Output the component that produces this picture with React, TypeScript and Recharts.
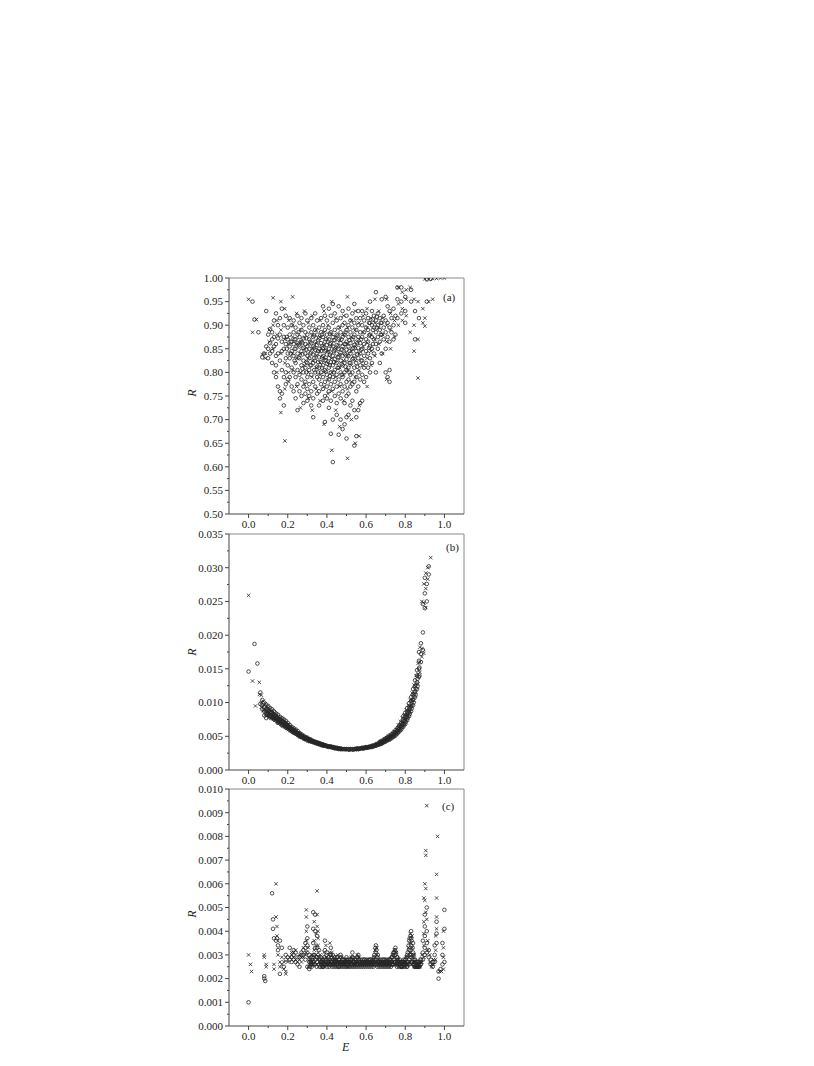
import React from 'react';
import { ScatterChart, Scatter, XAxis, YAxis, ReferenceLine } from 'recharts';

// each row: [E, list of R values read at that E]
type Group = [number, number[]];

const eTicks = [0, 0.1, 0.2, 0.3, 0.4, 0.5, 0.6, 0.7, 0.8, 0.9, 1.0];
const aTicks = [0.5, 0.525, 0.55, 0.575, 0.6, 0.625, 0.65, 0.675, 0.7, 0.725, 0.75, 0.775, 0.8, 0.825, 0.85, 0.875, 0.9, 0.925, 0.95, 0.975, 1.0];
const bTicks = [0, 0.0025, 0.005, 0.0075, 0.01, 0.0125, 0.015, 0.0175, 0.02, 0.0225, 0.025, 0.0275, 0.03, 0.0325, 0.035];
const cTicks = [0, 0.0005, 0.001, 0.0015, 0.002, 0.0025, 0.003, 0.0035, 0.004, 0.0045, 0.005, 0.0055, 0.006, 0.0065, 0.007, 0.0075, 0.008, 0.0085, 0.009, 0.0095, 0.01];

// panel (a)
const aCircles: Group[] = [
  [0.02, [0.95]], [0.03, [0.912]], [0.05, [0.885]], [0.07, [0.832]], [0.08, [0.84]], [0.09, [0.93, 0.855]],
  [0.10, [0.88, 0.85, 0.83]], [0.11, [0.892, 0.862, 0.84]], [0.12, [0.885, 0.87, 0.845, 0.82]],
  [0.13, [0.91, 0.875, 0.855, 0.80]], [0.14, [0.925, 0.86, 0.835, 0.815, 0.79]], [0.15, [0.90, 0.872, 0.84, 0.77]],
  [0.16, [0.915, 0.88, 0.825, 0.76, 0.745]], [0.17, [0.935, 0.865, 0.845, 0.805, 0.755]], [0.18, [0.90, 0.875, 0.85, 0.79, 0.73]],
  [0.19, [0.92, 0.86, 0.83, 0.80, 0.775]], [0.20, [0.895, 0.87, 0.84, 0.815, 0.785]], [0.21, [0.915, 0.88, 0.855, 0.83, 0.79]],
  [0.22, [0.90, 0.865, 0.845, 0.81, 0.77]], [0.23, [0.91, 0.885, 0.86, 0.835, 0.80, 0.76]], [0.24, [0.895, 0.87, 0.85, 0.82, 0.79, 0.745]],
  [0.25, [0.92, 0.88, 0.862, 0.84, 0.805, 0.775, 0.72]], [0.26, [0.905, 0.875, 0.855, 0.83, 0.795, 0.76]],
  [0.27, [0.915, 0.89, 0.865, 0.845, 0.815, 0.785, 0.75]], [0.28, [0.90, 0.872, 0.852, 0.825, 0.80, 0.77, 0.735]],
  [0.29, [0.925, 0.885, 0.86, 0.84, 0.81, 0.78, 0.755]], [0.30, [0.91, 0.88, 0.855, 0.835, 0.82, 0.79, 0.765, 0.74]],
  [0.31, [0.895, 0.87, 0.85, 0.83, 0.805, 0.775, 0.75]], [0.32, [0.915, 0.885, 0.862, 0.842, 0.815, 0.795, 0.76, 0.73]],
  [0.33, [0.90, 0.875, 0.855, 0.838, 0.82, 0.78, 0.745, 0.705]], [0.34, [0.925, 0.89, 0.865, 0.848, 0.825, 0.80, 0.77]],
  [0.35, [0.91, 0.88, 0.858, 0.84, 0.812, 0.79, 0.755]], [0.36, [0.895, 0.872, 0.85, 0.832, 0.81, 0.785, 0.76, 0.73]],
  [0.37, [0.915, 0.885, 0.862, 0.845, 0.822, 0.80, 0.775]], [0.38, [0.94, 0.90, 0.875, 0.852, 0.835, 0.815, 0.79, 0.765, 0.74]],
  [0.39, [0.92, 0.89, 0.865, 0.845, 0.825, 0.805, 0.78, 0.75, 0.695]], [0.40, [0.91, 0.88, 0.858, 0.838, 0.818, 0.795, 0.77, 0.745]],
  [0.41, [0.935, 0.895, 0.87, 0.85, 0.83, 0.81, 0.785, 0.76, 0.725]], [0.42, [0.92, 0.885, 0.862, 0.842, 0.822, 0.80, 0.775, 0.74, 0.67]],
  [0.43, [0.945, 0.905, 0.875, 0.855, 0.835, 0.815, 0.79, 0.765, 0.70, 0.61]], [0.44, [0.925, 0.89, 0.868, 0.848, 0.828, 0.805, 0.78, 0.75]],
  [0.45, [0.91, 0.88, 0.858, 0.84, 0.82, 0.795, 0.77, 0.735, 0.71]], [0.46, [0.94, 0.895, 0.87, 0.85, 0.832, 0.81, 0.785, 0.755, 0.668]],
  [0.47, [0.915, 0.885, 0.862, 0.842, 0.825, 0.80, 0.775, 0.745, 0.70]], [0.48, [0.93, 0.90, 0.875, 0.855, 0.835, 0.815, 0.79, 0.76, 0.68]],
  [0.49, [0.905, 0.88, 0.86, 0.84, 0.82, 0.80, 0.77, 0.735, 0.69]], [0.50, [0.92, 0.89, 0.865, 0.848, 0.828, 0.805, 0.78, 0.75, 0.705, 0.66]],
  [0.51, [0.935, 0.90, 0.875, 0.855, 0.835, 0.81, 0.785, 0.755, 0.71]], [0.52, [0.91, 0.885, 0.862, 0.84, 0.82, 0.795, 0.77, 0.73]],
  [0.53, [0.925, 0.895, 0.87, 0.85, 0.828, 0.80, 0.775, 0.74]], [0.54, [0.945, 0.905, 0.88, 0.858, 0.835, 0.81, 0.78, 0.72, 0.645]],
  [0.55, [0.915, 0.89, 0.865, 0.845, 0.82, 0.79, 0.76, 0.705, 0.665]], [0.56, [0.93, 0.90, 0.875, 0.852, 0.83, 0.80, 0.77, 0.72]],
  [0.57, [0.915, 0.885, 0.862, 0.84, 0.815, 0.785, 0.735]], [0.58, [0.93, 0.90, 0.875, 0.85, 0.825, 0.795, 0.74]],
  [0.59, [0.91, 0.885, 0.86, 0.835, 0.81, 0.78]], [0.60, [0.925, 0.895, 0.87, 0.845, 0.82, 0.79]],
  [0.61, [0.915, 0.89, 0.865, 0.84, 0.81]], [0.62, [0.95, 0.905, 0.88, 0.855, 0.83, 0.80]], [0.63, [0.93, 0.90, 0.875, 0.85, 0.82]],
  [0.64, [0.92, 0.895, 0.87, 0.84]], [0.65, [0.97, 0.91, 0.885, 0.86, 0.80]], [0.66, [0.925, 0.90, 0.875, 0.85]],
  [0.67, [0.915, 0.89, 0.865, 0.82]], [0.68, [0.955, 0.905, 0.88, 0.84]], [0.69, [0.92, 0.895, 0.87]],
  [0.70, [0.96, 0.91, 0.885, 0.85, 0.80]], [0.71, [0.94, 0.905, 0.875, 0.79]], [0.72, [0.93, 0.895, 0.865, 0.805, 0.78]],
  [0.73, [0.915, 0.885]], [0.74, [0.935, 0.90, 0.87]], [0.75, [0.92, 0.88]],
  [0.76, [0.98, 0.955, 0.915]], [0.78, [0.98, 0.95, 0.925]], [0.80, [0.96, 0.93, 0.905]], [0.83, [0.975, 0.95]],
  [0.85, [0.93, 0.87]], [0.87, [0.915]], [0.91, [0.997, 0.95]], [0.93, [0.998]],
];
// densest part of the (a) cloud
const aCore: Group[] = [
  [0.195, [0.875, 0.85]], [0.215, [0.865, 0.84]], [0.235, [0.87, 0.85, 0.825]], [0.255, [0.885, 0.858, 0.832]],
  [0.275, [0.862, 0.838, 0.808]], [0.295, [0.872, 0.848, 0.822, 0.80]], [0.315, [0.865, 0.84, 0.815]],
  [0.335, [0.878, 0.852, 0.83, 0.805]], [0.355, [0.868, 0.845, 0.822, 0.80]], [0.375, [0.88, 0.855, 0.832, 0.81]],
  [0.395, [0.87, 0.848, 0.826, 0.802]], [0.415, [0.882, 0.86, 0.838, 0.815, 0.792]], [0.435, [0.868, 0.845, 0.822, 0.80]],
  [0.455, [0.878, 0.855, 0.832, 0.81]], [0.475, [0.87, 0.848, 0.818, 0.795]], [0.495, [0.885, 0.86, 0.838, 0.812]],
  [0.515, [0.868, 0.845, 0.82, 0.80]], [0.535, [0.875, 0.852, 0.83]], [0.555, [0.862, 0.838, 0.812]],
  [0.575, [0.87, 0.848, 0.825]], [0.615, [0.905, 0.878, 0.852]], [0.635, [0.912, 0.89, 0.86]],
  [0.655, [0.918, 0.895]], [0.675, [0.905, 0.88]],
];
const aCrosses: Group[] = [
  [0.00, [0.955]], [0.02, [0.885]], [0.04, [0.912]], [0.07, [0.838]], [0.085, [0.84, 0.83]], [0.105, [0.89, 0.865]],
  [0.125, [0.958, 0.90, 0.85]], [0.145, [0.91, 0.88, 0.80]], [0.165, [0.95, 0.89, 0.84, 0.715]],
  [0.185, [0.935, 0.87, 0.82, 0.765, 0.655]], [0.205, [0.91, 0.86, 0.80, 0.78]], [0.225, [0.96, 0.90, 0.875, 0.84, 0.805]],
  [0.245, [0.925, 0.86, 0.83, 0.77]], [0.265, [0.89, 0.865, 0.84, 0.80, 0.725]], [0.285, [0.93, 0.875, 0.85, 0.815, 0.775]],
  [0.305, [0.905, 0.86, 0.83, 0.80, 0.745]], [0.325, [0.92, 0.88, 0.85, 0.825, 0.79, 0.72]], [0.345, [0.89, 0.862, 0.835, 0.81, 0.765]],
  [0.365, [0.91, 0.875, 0.845, 0.82, 0.795, 0.74]], [0.385, [0.93, 0.885, 0.858, 0.83, 0.80, 0.77, 0.69]],
  [0.405, [0.90, 0.87, 0.845, 0.82, 0.785, 0.755]], [0.425, [0.95, 0.88, 0.855, 0.83, 0.80, 0.76, 0.635]],
  [0.445, [0.915, 0.875, 0.85, 0.822, 0.79, 0.72]], [0.465, [0.895, 0.868, 0.838, 0.81, 0.77, 0.685]],
  [0.485, [0.92, 0.88, 0.85, 0.825, 0.795, 0.74]], [0.505, [0.96, 0.895, 0.86, 0.835, 0.805, 0.765, 0.618]],
  [0.525, [0.91, 0.875, 0.845, 0.815, 0.78, 0.70]], [0.545, [0.93, 0.89, 0.855, 0.825, 0.79, 0.65]],
  [0.565, [0.905, 0.87, 0.84, 0.805, 0.73, 0.665]], [0.585, [0.92, 0.885, 0.855, 0.815]],
  [0.605, [0.935, 0.895, 0.862, 0.83, 0.77]], [0.625, [0.915, 0.88, 0.845, 0.815]], [0.645, [0.955, 0.905, 0.87, 0.835]],
  [0.665, [0.93, 0.895, 0.86]], [0.685, [0.915, 0.88, 0.84]], [0.705, [0.955, 0.90, 0.865, 0.785]],
  [0.725, [0.925, 0.89, 0.85]], [0.745, [0.91, 0.875]], [0.765, [0.98, 0.945, 0.90]], [0.785, [0.97, 0.935, 0.91]],
  [0.805, [0.975, 0.955, 0.92]], [0.825, [0.98, 0.885]], [0.845, [0.955, 0.90, 0.845]], [0.865, [0.95, 0.87, 0.788]],
  [0.89, [0.935, 0.905]], [0.90, [0.998, 0.898, 0.915]], [0.92, [0.998, 0.95]], [0.94, [0.999, 0.955]],
  [0.96, [0.999]], [0.98, [1.0]], [1.0, [1.0]],
];

// panel (b)
const bCircles: Group[] = [
  [0.00, [0.0146]], [0.03, [0.0187]], [0.045, [0.0158]], [0.06, [0.0115, 0.0098]], [0.07, [0.0104, 0.0096, 0.0090]],
  [0.08, [0.0100, 0.0093, 0.0087, 0.0081]], [0.09, [0.0097, 0.0090, 0.0085, 0.0077]], [0.10, [0.0095, 0.0089, 0.0084]],
  [0.11, [0.0092, 0.0086, 0.0081, 0.0078]], [0.12, [0.0090, 0.0085, 0.0080]], [0.13, [0.0087, 0.0082, 0.0078, 0.0075]],
  [0.14, [0.0084, 0.0080, 0.0076]], [0.15, [0.0082, 0.0077, 0.0073, 0.0070]], [0.16, [0.0079, 0.0075, 0.0071]],
  [0.17, [0.0077, 0.0073, 0.0069, 0.0066]], [0.18, [0.0075, 0.0071, 0.0067]], [0.19, [0.0073, 0.0069, 0.0065, 0.0063]],
  [0.20, [0.0070, 0.0066, 0.0062]], [0.21, [0.0067, 0.0064, 0.0060]], [0.22, [0.0064, 0.0061, 0.0058]],
  [0.23, [0.0062, 0.0059, 0.0056]], [0.24, [0.0060, 0.0057, 0.0054]], [0.25, [0.0058, 0.0055, 0.0052]],
  [0.26, [0.0055, 0.0053, 0.0050]], [0.27, [0.0053, 0.0051, 0.0049]], [0.28, [0.0051, 0.0049, 0.0047]],
  [0.29, [0.0049, 0.0047, 0.0046]], [0.30, [0.0048, 0.0046, 0.0044]], [0.31, [0.0046, 0.0045, 0.0043]],
  [0.32, [0.0045, 0.0043, 0.0042]], [0.33, [0.0043, 0.0042, 0.0041]], [0.34, [0.0042, 0.0041, 0.0040]],
  [0.35, [0.0041, 0.0040, 0.0039]], [0.36, [0.0040, 0.0039, 0.0038]], [0.37, [0.0039, 0.0038, 0.0037]],
  [0.38, [0.0038, 0.0037, 0.0036]], [0.39, [0.0037, 0.0036]], [0.40, [0.0036, 0.0035]], [0.41, [0.0035, 0.0034]],
  [0.42, [0.0035, 0.0034]], [0.43, [0.0034, 0.0033]], [0.44, [0.0033, 0.0032]], [0.45, [0.0033, 0.0032]],
  [0.46, [0.0032, 0.0031]], [0.47, [0.0032, 0.0031]], [0.48, [0.0031]], [0.49, [0.0031]], [0.50, [0.0031]],
  [0.51, [0.0031]], [0.52, [0.0031]], [0.53, [0.0031]], [0.54, [0.0031]], [0.55, [0.0031, 0.0032]],
  [0.56, [0.0031, 0.0032]], [0.57, [0.0032]], [0.58, [0.0032, 0.0033]], [0.59, [0.0032, 0.0033]],
  [0.60, [0.0033, 0.0034]], [0.61, [0.0033, 0.0034]], [0.62, [0.0034, 0.0035]], [0.63, [0.0034, 0.0036]],
  [0.64, [0.0035, 0.0037]], [0.65, [0.0036, 0.0038]], [0.66, [0.0037, 0.0039]], [0.67, [0.0038, 0.0040, 0.0042]],
  [0.68, [0.0039, 0.0041, 0.0043]], [0.69, [0.0041, 0.0043, 0.0045]], [0.70, [0.0042, 0.0045, 0.0047]],
  [0.71, [0.0044, 0.0046, 0.0049]], [0.72, [0.0045, 0.0048, 0.0051]], [0.73, [0.0047, 0.0050, 0.0053]],
  [0.74, [0.0049, 0.0052, 0.0056]], [0.75, [0.0051, 0.0055, 0.0059]], [0.76, [0.0054, 0.0058, 0.0062]],
  [0.77, [0.0057, 0.0061, 0.0066]], [0.78, [0.0060, 0.0065, 0.0070]], [0.79, [0.0064, 0.0069, 0.0075, 0.0080]],
  [0.80, [0.0068, 0.0073, 0.0079, 0.0085]], [0.81, [0.0074, 0.0079, 0.0086, 0.0092]], [0.82, [0.0080, 0.0086, 0.0093, 0.0099]],
  [0.83, [0.0087, 0.0094, 0.0102, 0.0108]], [0.84, [0.0096, 0.0104, 0.0112, 0.0120]], [0.85, [0.0108, 0.0116, 0.0125, 0.0133]],
  [0.86, [0.0120, 0.0130, 0.0140, 0.0148]], [0.87, [0.0138, 0.0150, 0.0162, 0.0175]], [0.88, [0.0160, 0.0172, 0.0188]],
  [0.89, [0.0178, 0.0204, 0.0246]], [0.90, [0.0240, 0.0262, 0.0285]], [0.91, [0.0250, 0.0276]], [0.92, [0.0290, 0.0302]],
];
// extra points along the dense U-shaped band
const bBand: Group[] = [
  [0.0925, [0.0088, 0.0083]], [0.1025, [0.0087, 0.0081]], [0.1125, [0.0084, 0.0079]], [0.1225, [0.0082, 0.0077]],
  [0.1325, [0.0080, 0.0075]], [0.1425, [0.0077, 0.0073]], [0.1525, [0.0075, 0.0071]], [0.1625, [0.0073, 0.0069]],
  [0.1725, [0.0071, 0.0067]], [0.1825, [0.0069, 0.0065]], [0.1925, [0.0067, 0.0063]], [0.2025, [0.0064, 0.0061]],
  [0.2125, [0.0062, 0.0059]], [0.2225, [0.0060, 0.0057]], [0.2325, [0.0058, 0.0055]], [0.2425, [0.0056, 0.0054]],
  [0.2525, [0.0054, 0.0052]], [0.2625, [0.0052, 0.0050]], [0.2725, [0.0050, 0.0049]], [0.2825, [0.0049, 0.0047]],
  [0.2925, [0.0047, 0.0046]], [0.3025, [0.0046, 0.0045]], [0.3125, [0.0044]], [0.3225, [0.0043]], [0.3325, [0.0042]],
  [0.3425, [0.0041]], [0.3525, [0.0040]], [0.3625, [0.0039]], [0.3725, [0.0038]], [0.3825, [0.0037]], [0.3925, [0.0036]],
  [0.4025, [0.0035]], [0.4125, [0.0035]], [0.4225, [0.0034]], [0.4325, [0.0034]], [0.4425, [0.0033]], [0.4525, [0.0032]],
  [0.4625, [0.0032]], [0.4725, [0.0031]], [0.4825, [0.0031]], [0.4925, [0.0031]], [0.5025, [0.0031]], [0.5125, [0.0030]],
  [0.5225, [0.0031]], [0.5325, [0.0030]], [0.5425, [0.0031]], [0.5525, [0.0031]], [0.5625, [0.0031]], [0.5725, [0.0032]],
  [0.5825, [0.0032]], [0.5925, [0.0033]], [0.6025, [0.0033]], [0.6125, [0.0034]], [0.6225, [0.0034]], [0.6325, [0.0035]],
  [0.6425, [0.0036]], [0.6525, [0.0037]], [0.6625, [0.0038]], [0.6725, [0.0039, 0.0041]], [0.6825, [0.0040, 0.0042]],
  [0.6925, [0.0042, 0.0044]], [0.7025, [0.0044, 0.0046]], [0.7125, [0.0045, 0.0048]], [0.7225, [0.0047, 0.0050]],
  [0.7325, [0.0049, 0.0052]], [0.7425, [0.0051, 0.0055]], [0.7525, [0.0053, 0.0057]], [0.7625, [0.0056, 0.0061]],
  [0.7725, [0.0059, 0.0064]], [0.7825, [0.0063, 0.0068]], [0.7925, [0.0067, 0.0073]], [0.8025, [0.0071, 0.0078]],
  [0.8125, [0.0077, 0.0084]], [0.8225, [0.0083, 0.0091]], [0.8325, [0.0091, 0.0099]], [0.8425, [0.0100, 0.0109]],
  [0.8525, [0.0111, 0.0121]], [0.8625, [0.0124, 0.0135]], [0.8725, [0.0140, 0.0152]],
];
const bCrosses: Group[] = [
  [0.00, [0.0259]], [0.02, [0.0132]], [0.035, [0.0095]], [0.055, [0.0130, 0.0112]], [0.065, [0.0111, 0.0100, 0.0093]],
  [0.075, [0.0102, 0.0095, 0.0088]], [0.085, [0.0098, 0.0090, 0.0082]], [0.095, [0.0094, 0.0087, 0.0080]],
  [0.105, [0.0091, 0.0085, 0.0079]], [0.115, [0.0088, 0.0083, 0.0077]], [0.125, [0.0086, 0.0081, 0.0076]],
  [0.135, [0.0083, 0.0078, 0.0074]], [0.145, [0.0081, 0.0076, 0.0072]], [0.155, [0.0078, 0.0074, 0.0070]],
  [0.165, [0.0076, 0.0072, 0.0068]], [0.175, [0.0074, 0.0070, 0.0066]], [0.185, [0.0072, 0.0068, 0.0064]],
  [0.195, [0.0069, 0.0066, 0.0062]], [0.205, [0.0067, 0.0063, 0.0060]], [0.215, [0.0064, 0.0061, 0.0058]],
  [0.225, [0.0062, 0.0059, 0.0056]], [0.235, [0.0060, 0.0057, 0.0055]], [0.245, [0.0058, 0.0055, 0.0053]],
  [0.255, [0.0055, 0.0053, 0.0051]], [0.265, [0.0053, 0.0051, 0.0049]], [0.275, [0.0051, 0.0049, 0.0048]],
  [0.285, [0.0049, 0.0048, 0.0046]], [0.295, [0.0048, 0.0046, 0.0045]], [0.305, [0.0046, 0.0045, 0.0043]],
  [0.315, [0.0045, 0.0043, 0.0042]], [0.325, [0.0043, 0.0042]], [0.335, [0.0042, 0.0041]], [0.345, [0.0041, 0.0040]],
  [0.355, [0.0040, 0.0039]], [0.365, [0.0039, 0.0038]], [0.375, [0.0038, 0.0037]], [0.385, [0.0037, 0.0036]],
  [0.395, [0.0036]], [0.405, [0.0035]], [0.415, [0.0035]], [0.425, [0.0034]], [0.435, [0.0033]], [0.445, [0.0033]],
  [0.455, [0.0032]], [0.465, [0.0032]], [0.475, [0.0031]], [0.485, [0.0031]], [0.495, [0.0031]], [0.505, [0.0030]],
  [0.515, [0.0031]], [0.525, [0.0030]], [0.535, [0.0031]], [0.545, [0.0031]], [0.555, [0.0031]], [0.565, [0.0032]],
  [0.575, [0.0032]], [0.585, [0.0033]], [0.595, [0.0033]], [0.605, [0.0034]], [0.615, [0.0034]], [0.625, [0.0035]],
  [0.635, [0.0036]], [0.645, [0.0036]], [0.655, [0.0037, 0.0039]], [0.665, [0.0038, 0.0040]], [0.675, [0.0040, 0.0042]],
  [0.685, [0.0041, 0.0044]], [0.695, [0.0043, 0.0046]], [0.705, [0.0045, 0.0048]], [0.715, [0.0046, 0.0050]],
  [0.725, [0.0048, 0.0052]], [0.735, [0.0050, 0.0054]], [0.745, [0.0052, 0.0057]], [0.755, [0.0055, 0.0060]],
  [0.765, [0.0058, 0.0063, 0.0067]], [0.775, [0.0061, 0.0067, 0.0072]], [0.785, [0.0065, 0.0071, 0.0077]],
  [0.795, [0.0069, 0.0076, 0.0082]], [0.805, [0.0074, 0.0081, 0.0089]], [0.815, [0.0080, 0.0088, 0.0096]],
  [0.825, [0.0087, 0.0095, 0.0104]], [0.835, [0.0094, 0.0104, 0.0114]], [0.845, [0.0103, 0.0114, 0.0126]],
  [0.855, [0.0115, 0.0127, 0.0140]], [0.865, [0.0128, 0.0142, 0.0158]], [0.875, [0.0145, 0.0160, 0.0182]],
  [0.885, [0.0168, 0.0180, 0.0250]], [0.895, [0.0173, 0.0248, 0.0276]], [0.905, [0.0241, 0.0269, 0.0292]],
  [0.915, [0.0283, 0.0300]], [0.93, [0.0315]],
];

// panel (c)
const cCircles: Group[] = [
  [0.00, [0.0010]], [0.08, [0.0021, 0.0020]], [0.085, [0.0019]], [0.12, [0.0056]], [0.125, [0.0045, 0.0041]],
  [0.13, [0.0037]], [0.14, [0.0036]], [0.145, [0.0037]], [0.15, [0.0034, 0.0032]], [0.16, [0.0036, 0.0022]],
  [0.17, [0.0033]], [0.18, [0.0025]], [0.19, [0.0030, 0.0028]], [0.20, [0.0029]], [0.21, [0.0033, 0.0028]],
  [0.22, [0.0027, 0.0029]], [0.23, [0.0032, 0.0030, 0.0028]], [0.24, [0.0031, 0.0027]], [0.25, [0.0029, 0.0026]],
  [0.26, [0.0025, 0.0029]], [0.27, [0.0031, 0.0030]], [0.28, [0.0032, 0.0030]], [0.29, [0.0035, 0.0033, 0.0028]],
  [0.30, [0.0042, 0.0037, 0.0034, 0.0031, 0.0025]], [0.31, [0.0030, 0.0027, 0.0024]], [0.32, [0.0029, 0.0027, 0.0026]],
  [0.33, [0.0048, 0.0041, 0.0035, 0.0030, 0.0027]], [0.34, [0.0047, 0.0040, 0.0033, 0.0028, 0.0026]],
  [0.35, [0.0038, 0.0033, 0.0029, 0.0027]], [0.36, [0.0032, 0.0029, 0.0026]], [0.37, [0.0029, 0.0027, 0.0026]],
  [0.38, [0.0028, 0.0026, 0.0025]], [0.39, [0.0036, 0.0032, 0.0028, 0.0026]], [0.40, [0.0031, 0.0028, 0.0026]],
  [0.41, [0.0029, 0.0027, 0.0026]], [0.42, [0.0033, 0.0030, 0.0027]], [0.43, [0.0030, 0.0028, 0.0026]],
  [0.44, [0.0029, 0.0027, 0.0026]], [0.45, [0.0029, 0.0027, 0.0026]], [0.46, [0.0028, 0.0027, 0.0025]],
  [0.47, [0.0030, 0.0027, 0.0026]], [0.48, [0.0028, 0.0027, 0.0026]], [0.49, [0.0027, 0.0026]],
  [0.50, [0.0029, 0.0027, 0.0026]], [0.51, [0.0027, 0.0026]], [0.52, [0.0028, 0.0026]], [0.53, [0.0031, 0.0028, 0.0026]],
  [0.54, [0.0027, 0.0026]], [0.55, [0.0028, 0.0026]], [0.56, [0.0030, 0.0028, 0.0026]], [0.57, [0.0027, 0.0026]],
  [0.58, [0.0027, 0.0026]], [0.59, [0.0028, 0.0026]], [0.60, [0.0027, 0.0026]], [0.61, [0.0027, 0.0026]],
  [0.62, [0.0028, 0.0026]], [0.63, [0.0027, 0.0026]], [0.64, [0.0029, 0.0027, 0.0026]], [0.65, [0.0034, 0.0031, 0.0028, 0.0026]],
  [0.66, [0.0030, 0.0027, 0.0026]], [0.67, [0.0027, 0.0026]], [0.68, [0.0027, 0.0026]], [0.69, [0.0028, 0.0026]],
  [0.70, [0.0027, 0.0026]], [0.71, [0.0027, 0.0026]], [0.72, [0.0028, 0.0026]], [0.73, [0.0029, 0.0027, 0.0026]],
  [0.74, [0.0031, 0.0028, 0.0026]], [0.75, [0.0033, 0.0030, 0.0027]], [0.76, [0.0029, 0.0027, 0.0026]],
  [0.77, [0.0027, 0.0026]], [0.78, [0.0027, 0.0025]], [0.79, [0.0027, 0.0026]], [0.80, [0.0028, 0.0026]],
  [0.81, [0.0030, 0.0027, 0.0025]], [0.82, [0.0036, 0.0032, 0.0028, 0.0026]], [0.83, [0.0040, 0.0037, 0.0034, 0.0030, 0.0027]],
  [0.84, [0.0035, 0.0031, 0.0028, 0.0026]], [0.85, [0.0028, 0.0026, 0.0025]], [0.86, [0.0027, 0.0025]],
  [0.87, [0.0026, 0.0025]], [0.88, [0.0028, 0.0026]], [0.89, [0.0036, 0.0031, 0.0028]],
  [0.90, [0.0047, 0.0042, 0.0038, 0.0033, 0.0030]], [0.91, [0.0050, 0.0040, 0.0035, 0.0031]], [0.92, [0.0032, 0.0029]],
  [0.93, [0.0028, 0.0026]], [0.94, [0.0027, 0.0025]], [0.95, [0.0034, 0.0030, 0.0027]], [0.96, [0.0044, 0.0039, 0.0035]],
  [0.97, [0.0020, 0.0023]], [0.98, [0.0024]], [0.99, [0.0035, 0.0030, 0.0026]], [1.00, [0.0049, 0.0041, 0.0027]],
];
// extra points along the flat, dense baseline of (c)
const cBand: Group[] = [
  [0.3125, [0.0028, 0.0025]], [0.3175, [0.0027, 0.0026]], [0.3225, [0.0028, 0.0025]], [0.3275, [0.0029, 0.0026]],
  [0.3375, [0.0030, 0.0026]], [0.3475, [0.0029, 0.0025]], [0.3625, [0.0028, 0.0025]], [0.3675, [0.0027, 0.0025]],
  [0.3725, [0.0027, 0.0026]], [0.3775, [0.0028, 0.0025]], [0.3825, [0.0027, 0.0025]], [0.3875, [0.0029, 0.0026]],
  [0.3975, [0.0030, 0.0026]], [0.4025, [0.0027, 0.0025]], [0.4075, [0.0028, 0.0026]], [0.4125, [0.0027, 0.0025]],
  [0.4175, [0.0030, 0.0026]], [0.4225, [0.0029, 0.0026]], [0.4275, [0.0027, 0.0025]], [0.4325, [0.0028, 0.0026]],
  [0.4375, [0.0027, 0.0025]], [0.4425, [0.0028, 0.0026]], [0.4475, [0.0027, 0.0025]], [0.4525, [0.0029, 0.0026]],
  [0.4575, [0.0027, 0.0025]], [0.4625, [0.0028, 0.0026]], [0.4675, [0.0027, 0.0025]], [0.4725, [0.0029, 0.0026]],
  [0.4775, [0.0027, 0.0025]], [0.4825, [0.0028, 0.0026]], [0.4875, [0.0027, 0.0025]], [0.4925, [0.0028, 0.0026]],
  [0.4975, [0.0027, 0.0025]], [0.5025, [0.0028, 0.0026]], [0.5075, [0.0027, 0.0025]], [0.5125, [0.0028, 0.0026]],
  [0.5175, [0.0027, 0.0025]], [0.5225, [0.0028, 0.0026]], [0.5275, [0.0029, 0.0025]], [0.5325, [0.0029, 0.0026]],
  [0.5375, [0.0027, 0.0025]], [0.5425, [0.0028, 0.0026]], [0.5475, [0.0027, 0.0025]], [0.5525, [0.0029, 0.0026]],
  [0.5575, [0.0029, 0.0025]], [0.5625, [0.0028, 0.0026]], [0.5675, [0.0027, 0.0025]], [0.5725, [0.0028, 0.0026]],
  [0.5775, [0.0027, 0.0025]], [0.5825, [0.0028, 0.0026]], [0.5875, [0.0027, 0.0025]], [0.5925, [0.0028, 0.0026]],
  [0.5975, [0.0027, 0.0025]], [0.6025, [0.0028, 0.0026]], [0.6075, [0.0027, 0.0025]], [0.6125, [0.0028, 0.0026]],
  [0.6175, [0.0027, 0.0025]], [0.6225, [0.0028, 0.0026]], [0.6275, [0.0027, 0.0025]], [0.6325, [0.0028, 0.0026]],
  [0.6375, [0.0028, 0.0025]], [0.6425, [0.0030, 0.0026]], [0.6475, [0.0033, 0.0027]], [0.6525, [0.0032, 0.0026]],
  [0.6575, [0.0029, 0.0025]], [0.6625, [0.0028, 0.0026]], [0.6675, [0.0027, 0.0025]], [0.6725, [0.0028, 0.0026]],
  [0.6775, [0.0027, 0.0025]], [0.6825, [0.0028, 0.0026]], [0.6875, [0.0027, 0.0025]], [0.6925, [0.0028, 0.0026]],
  [0.6975, [0.0027, 0.0025]], [0.7025, [0.0028, 0.0026]], [0.7075, [0.0027, 0.0025]], [0.7125, [0.0028, 0.0026]],
  [0.7175, [0.0027, 0.0025]], [0.7225, [0.0028, 0.0026]], [0.7275, [0.0028, 0.0025]], [0.7325, [0.0029, 0.0026]],
  [0.7375, [0.0030, 0.0026]], [0.7425, [0.0031, 0.0027]], [0.7475, [0.0032, 0.0027]], [0.7525, [0.0031, 0.0026]],
  [0.7575, [0.0029, 0.0025]], [0.7625, [0.0028, 0.0026]], [0.7675, [0.0027, 0.0025]], [0.7725, [0.0028, 0.0026]],
  [0.7775, [0.0027, 0.0025]], [0.7825, [0.0027, 0.0025]], [0.7875, [0.0027, 0.0025]], [0.7925, [0.0028, 0.0026]],
  [0.7975, [0.0027, 0.0025]], [0.8025, [0.0028, 0.0026]], [0.8075, [0.0029, 0.0025]], [0.8125, [0.0031, 0.0026]],
  [0.8175, [0.0034, 0.0027]], [0.8225, [0.0037, 0.0030]], [0.8275, [0.0038, 0.0032]], [0.8325, [0.0036, 0.0029]],
  [0.8375, [0.0033, 0.0027]], [0.8425, [0.0030, 0.0026]], [0.8475, [0.0028, 0.0025]], [0.8525, [0.0027, 0.0025]],
  [0.8575, [0.0026, 0.0025]], [0.8625, [0.0027, 0.0025]], [0.8675, [0.0026, 0.0025]], [0.8725, [0.0027, 0.0025]],
  [0.8775, [0.0028, 0.0026]],
];
const cCrosses: Group[] = [
  [0.00, [0.0030]], [0.01, [0.0026]], [0.015, [0.0023]], [0.08, [0.0030, 0.0029]], [0.09, [0.0026, 0.0025]],
  [0.13, [0.0026, 0.0024]], [0.14, [0.0060, 0.0046]], [0.145, [0.0042, 0.0038]], [0.15, [0.0030]],
  [0.16, [0.0027, 0.0025]], [0.17, [0.0029, 0.0026]], [0.18, [0.0027, 0.0024]], [0.19, [0.0023, 0.0022]],
  [0.20, [0.0027]], [0.21, [0.0029]], [0.22, [0.0031, 0.0030]], [0.23, [0.0029, 0.0031]], [0.24, [0.0028, 0.0032]],
  [0.25, [0.0027]], [0.26, [0.0028, 0.0030]], [0.27, [0.0027, 0.0029]], [0.28, [0.0029, 0.0033]], [0.29, [0.0030]],
  [0.295, [0.0049, 0.0046, 0.0040, 0.0036, 0.0031]], [0.305, [0.0033, 0.0029, 0.0025]], [0.315, [0.0028, 0.0026]],
  [0.325, [0.0030, 0.0027, 0.0026]], [0.335, [0.0044, 0.0036, 0.0032, 0.0028]], [0.345, [0.0039, 0.0034, 0.0030, 0.0026]],
  [0.35, [0.0057, 0.0047, 0.0042]], [0.355, [0.0040, 0.0037, 0.0034, 0.0031, 0.0028]], [0.365, [0.0030, 0.0027]],
  [0.375, [0.0028, 0.0026]], [0.385, [0.0031, 0.0027, 0.0025]], [0.395, [0.0034, 0.0029, 0.0026]], [0.405, [0.0028, 0.0026]],
  [0.415, [0.0035, 0.0031, 0.0027]], [0.425, [0.0031, 0.0028, 0.0026]], [0.435, [0.0028, 0.0026]], [0.445, [0.0028, 0.0026]],
  [0.455, [0.0030, 0.0027]], [0.465, [0.0027, 0.0026]], [0.475, [0.0029, 0.0026]], [0.485, [0.0027, 0.0026]],
  [0.495, [0.0028, 0.0026]], [0.505, [0.0027, 0.0025]], [0.515, [0.0027, 0.0026]], [0.525, [0.0029, 0.0027]],
  [0.535, [0.0028, 0.0026]], [0.545, [0.0027, 0.0026]], [0.555, [0.0030, 0.0027]], [0.565, [0.0029, 0.0026]],
  [0.575, [0.0027, 0.0026]], [0.585, [0.0027, 0.0026]], [0.595, [0.0027, 0.0026]], [0.605, [0.0028, 0.0026]],
  [0.615, [0.0027, 0.0026]], [0.625, [0.0027, 0.0026]], [0.635, [0.0028, 0.0026]], [0.645, [0.0032, 0.0029, 0.0027]],
  [0.655, [0.0033, 0.0030, 0.0027]], [0.665, [0.0028, 0.0026]], [0.675, [0.0027, 0.0026]], [0.685, [0.0027, 0.0026]],
  [0.695, [0.0027, 0.0026]], [0.705, [0.0028, 0.0026]], [0.715, [0.0027, 0.0026]], [0.725, [0.0027, 0.0026]],
  [0.735, [0.0030, 0.0027]], [0.745, [0.0032, 0.0029, 0.0026]], [0.755, [0.0031, 0.0028, 0.0026]], [0.765, [0.0028, 0.0026]],
  [0.775, [0.0027, 0.0026]], [0.785, [0.0026, 0.0025]], [0.795, [0.0027, 0.0026]], [0.805, [0.0029, 0.0026]],
  [0.815, [0.0033, 0.0029, 0.0026]], [0.825, [0.0039, 0.0035, 0.0031, 0.0027]], [0.835, [0.0038, 0.0033, 0.0029, 0.0026]],
  [0.845, [0.0030, 0.0027, 0.0025]], [0.855, [0.0027, 0.0025]], [0.865, [0.0026, 0.0025]], [0.875, [0.0027, 0.0025]],
  [0.885, [0.0030, 0.0027]], [0.895, [0.0054, 0.0044, 0.0039, 0.0034, 0.0029]], [0.90, [0.0060, 0.0053]],
  [0.905, [0.0074, 0.0072, 0.0058, 0.0048]], [0.91, [0.0093, 0.0045]], [0.915, [0.0036, 0.0032]], [0.925, [0.0030, 0.0027]],
  [0.935, [0.0026, 0.0025]], [0.945, [0.0028, 0.0026]], [0.955, [0.0038, 0.0032, 0.0028]],
  [0.96, [0.0064, 0.0054, 0.0046, 0.0041]], [0.965, [0.0080]], [0.975, [0.0023]], [0.985, [0.0023]],
  [0.995, [0.0040, 0.0033, 0.0029, 0.0024]],
];

const FONT = '"Liberation Serif", "Times New Roman", serif';
const INK = '#262626';
const TICK_SIZE = 4;
const TICK_MARGIN = 2;

const toPoints = (groups: Group[]) => groups.flatMap(([e, rs]) => rs.map((r) => ({ e, r })));

const CircleMark = (p: any) => (
  <circle cx={p.cx} cy={p.cy} r={1.8} fill="none" stroke={INK} strokeWidth={0.8} />
);
const CrossMark = (p: any) => {
  const d = 1.7;
  return (
    <path
      d={`M${p.cx - d},${p.cy - d}L${p.cx + d},${p.cy + d}M${p.cx - d},${p.cy + d}L${p.cx + d},${p.cy - d}`}
      stroke={INK}
      strokeWidth={0.8}
    />
  );
};

const XTick = (props: any) => {
  const { x, y, index, payload } = props;
  const major = index % 2 === 0;
  const axisY = y - TICK_SIZE - TICK_MARGIN;
  return (
    <g>
      <line x1={x} x2={x} y1={axisY} y2={axisY + (major ? 4 : 2)} stroke="#444" />
      {major && (
        <text x={x} y={y} dy="0.71em" textAnchor="middle" fontSize={11} fontFamily={FONT} fill="#222">
          {Number(payload.value).toFixed(1)}
        </text>
      )}
    </g>
  );
};

const makeYTick = (digits: number) => (props: any) => {
  const { x, y, index, payload } = props;
  const major = index % 2 === 0;
  const axisX = x + TICK_SIZE + TICK_MARGIN;
  return (
    <g>
      <line x1={axisX} x2={axisX - (major ? 4 : 2)} y1={y} y2={y} stroke="#444" />
      {major && (
        <text x={x} y={y} dy="0.35em" textAnchor="end" fontSize={11} fontFamily={FONT} fill="#222">
          {Number(payload.value).toFixed(digits)}
        </text>
      )}
    </g>
  );
};

interface PanelProps {
  top: number;
  plotHeight: number;
  yTicks: number[];
  digits: number;
  circles: Group[];
  crosses: Group[];
}

const Panel: React.FC<PanelProps> = ({ top, plotHeight, yTicks, digits, circles, crosses }) => {
  const yMin = yTicks[0];
  const yMax = yTicks[yTicks.length - 1];
  return (
    <div style={{ position: 'absolute', left: 169, top: top - 10 }}>
      <ScatterChart width={305} height={plotHeight + 30} margin={{ top: 10, right: 10, bottom: 0, left: 0 }}>
        <XAxis
          type="number"
          dataKey="e"
          domain={[-0.1, 1.1]}
          ticks={eTicks}
          interval={0}
          height={20}
          tickSize={TICK_SIZE}
          tickMargin={TICK_MARGIN}
          tickLine={false}
          tick={XTick}
          axisLine={{ stroke: '#444' }}
          allowDataOverflow
        />
        <YAxis
          type="number"
          dataKey="r"
          domain={[yMin, yMax]}
          ticks={yTicks}
          interval={0}
          width={60}
          tickSize={TICK_SIZE}
          tickMargin={TICK_MARGIN}
          tickLine={false}
          tick={makeYTick(digits)}
          axisLine={{ stroke: '#444' }}
          allowDataOverflow
        />
        <ReferenceLine x={1.1} stroke="#888" />
        <ReferenceLine y={yMax} stroke="#888" />
        <Scatter data={toPoints(circles)} shape={CircleMark} isAnimationActive={false} />
        <Scatter data={toPoints(crosses)} shape={CrossMark} isAnimationActive={false} />
      </ScatterChart>
    </div>
  );
};

const textStyle: React.CSSProperties = {
  position: 'absolute',
  fontFamily: FONT,
  fontSize: 11,
  color: '#222',
  lineHeight: '14px',
};

const RLabel: React.FC<{ mid: number }> = ({ mid }) => (
  <div
    style={{
      ...textStyle,
      left: 186,
      top: mid - 7,
      width: 12,
      textAlign: 'center',
      fontStyle: 'italic',
      fontSize: 12,
      transform: 'rotate(-90deg)',
    }}
  >
    R
  </div>
);

export default function App() {
  return (
    <div style={{ position: 'absolute', left: 0, top: 0, width: 814, height: 1066, background: '#fff' }}>
      <Panel top={278} plotHeight={236} yTicks={aTicks} digits={2} circles={[...aCircles, ...aCore]} crosses={aCrosses} />
      <Panel top={534} plotHeight={236} yTicks={bTicks} digits={3} circles={[...bCircles, ...bBand]} crosses={bCrosses} />
      <Panel top={789} plotHeight={237} yTicks={cTicks} digits={3} circles={[...cCircles, ...cBand]} crosses={cCrosses} />
      <RLabel mid={393} />
      <RLabel mid={652} />
      <RLabel mid={914} />
      <div style={{ ...textStyle, left: 443, top: 290 }}>(a)</div>
      <div style={{ ...textStyle, left: 446, top: 540 }}>(b)</div>
      <div style={{ ...textStyle, left: 442, top: 799 }}>(c)</div>
      <div style={{ ...textStyle, left: 342, top: 1040, fontStyle: 'italic', fontSize: 12 }}>E</div>
    </div>
  );
}
